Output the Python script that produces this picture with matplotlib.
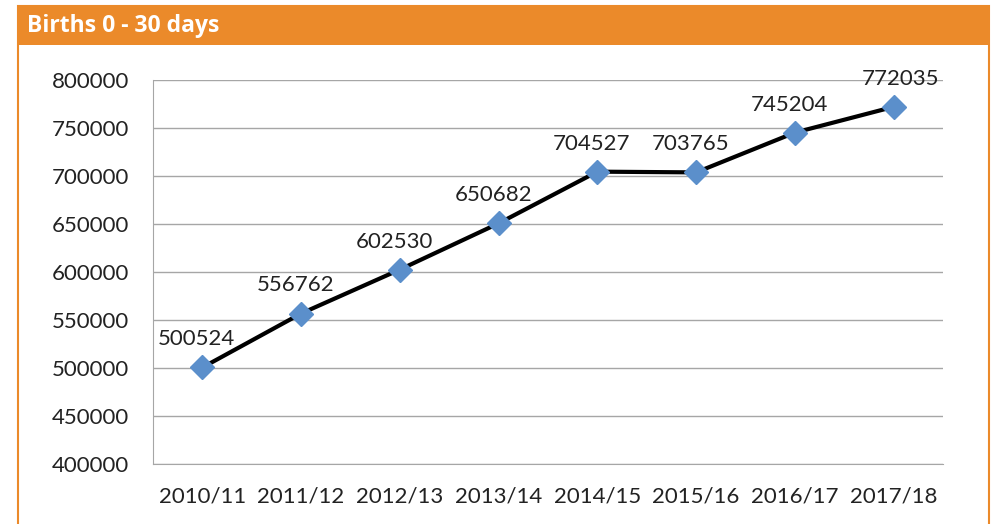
import matplotlib
matplotlib.use("Agg")
import matplotlib.pyplot as plt
from matplotlib.patches import Rectangle

categories = ["2010/11", "2011/12", "2012/13", "2013/14", "2014/15", "2015/16", "2016/17", "2017/18"]
births = [500524, 556762, 602530, 650682, 704527, 703765, 745204, 772035]
yticks = [400000, 450000, 500000, 550000, 600000, 650000, 700000, 750000, 800000]
title = "Births 0 - 30 days"

W, H = 995, 524
fig = plt.figure(figsize=(W / 100, H / 100), dpi=100)
orange = "#EB8A2A"

# outer frame and header (frame runs off the bottom edge)
fig.patches.append(Rectangle((18 / W, -0.05), (989 - 18) / W, (H - 6) / H + 0.05, transform=fig.transFigure,
                             facecolor="white", edgecolor=orange, linewidth=1.5, zorder=-10))
fig.patches.append(Rectangle((18 / W, (H - 45) / H), (989 - 18) / W, 39 / H, transform=fig.transFigure,
                             facecolor=orange, edgecolor="none", zorder=-9))
fig.text(27 / W, (H - 26) / H, title, color="white", fontsize=16.5, fontweight="bold",
         family=["Open Sans", "DejaVu Sans"], va="center", ha="left")

ax = fig.add_axes([153 / W, (H - 464) / H, (943 - 153) / W, (464 - 80) / H])
ax.set_zorder(5)
ax.patch.set_alpha(0)
x = list(range(len(categories)))
ax.plot(x, births, color="black", linewidth=3, zorder=3)
ax.plot(x, births, linestyle="none", marker="D", markersize=12, color="#5B8FCB", zorder=4)
for i, (xi, v) in enumerate(zip(x, births)):
    dx = 5 if i == len(births) - 1 else -4
    ax.annotate(str(v), (xi, v), xytext=(dx, 13), textcoords="offset points", ha="center",
                va="bottom", fontsize=16, color="#222222", family=["Lato", "DejaVu Sans"])

ax.set_xlim(-0.5, len(categories) - 0.5)
ax.set_ylim(400000, 800000)
ax.set_yticks(yticks)
ax.set_yticklabels([str(t) for t in yticks])
ax.set_xticks(x)
ax.set_xticklabels(categories)
ax.grid(axis="y", color="#A6A6A6", linewidth=1)
ax.set_axisbelow(True)
for s in ["top", "right"]:
    ax.spines[s].set_visible(False)
for s in ["left", "bottom"]:
    ax.spines[s].set_color("#A6A6A6")
ax.tick_params(axis="both", length=0, labelsize=16, colors="#222222")
ax.tick_params(axis="y", pad=17)
ax.tick_params(axis="x", pad=16)
for lab in ax.get_xticklabels() + ax.get_yticklabels():
    lab.set_family(["Lato", "DejaVu Sans"])

fig.savefig("out.png", dpi=100)
